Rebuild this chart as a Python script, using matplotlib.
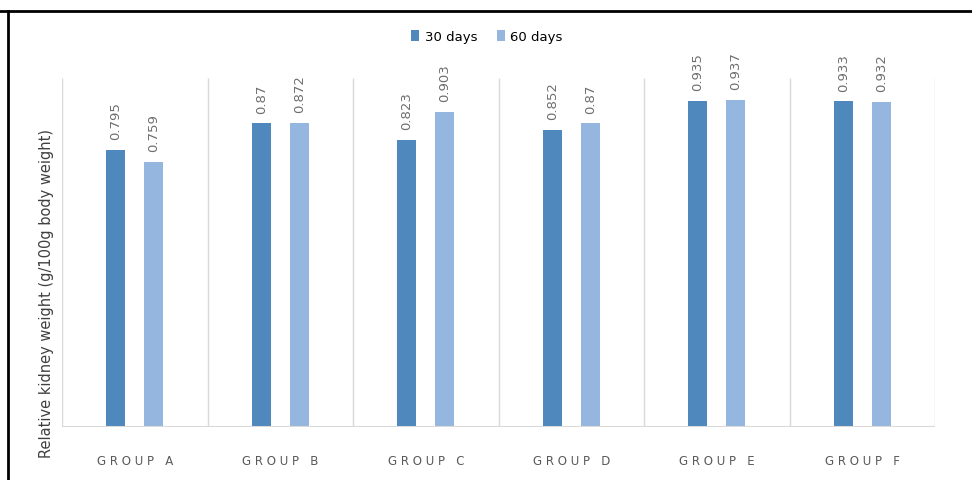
import numpy as np
import matplotlib
matplotlib.use("Agg")
from matplotlib import pyplot as plt
from matplotlib.lines import Line2D

groups = ["GROUP A", "GROUP B", "GROUP C", "GROUP D", "GROUP E", "GROUP F"]
days30 = [0.795, 0.87, 0.823, 0.852, 0.935, 0.933]
days60 = [0.759, 0.872, 0.903, 0.87, 0.937, 0.932]
series_names = ["30 days", "60 days"]

c30 = "#4f88bd"
c60 = "#95b6de"
grey = "#595959"

fig = plt.figure(figsize=(9.72, 4.8), dpi=100)
ax = fig.add_axes([62/972, 1-427/480, (935-62)/972, (427-78)/480])

x = np.arange(len(groups))
w = 0.13
b1 = ax.bar(x - w, days30, w, color=c30, label=series_names[0])
b2 = ax.bar(x + w, days60, w, color=c60, label=series_names[1])

# etiquettes de valeurs, verticales au-dessus des barres
for bars, vals in ((b1, days30), (b2, days60)):
    for r, v in zip(bars, vals):
        ax.annotate(f"{v:g}", (r.get_x() + r.get_width()/2, v), xytext=(0, 7),
                    textcoords="offset points", rotation=90, ha="center", va="bottom",
                    fontsize=9.5, color="#6e6e6e")

ax.set_xlim(-0.5, len(groups) - 0.5)
ax.set_ylim(0, 1.0)
ax.vlines(np.arange(len(groups) + 1) - 0.5, 0, 1, color="#d9d9d9", lw=1)
ax.axhline(0, color="#d9d9d9", lw=1.5)
for s in ax.spines.values():
    s.set_visible(False)
ax.set_yticks([])
ax.set_xticks(x)
ax.set_xticklabels([" ".join(g) for g in groups], fontsize=8.5, color=grey)
ax.tick_params(axis="x", length=0, pad=20)

fig.text(47/972, 1-293/480, "Relative kidney weight (g/100g body weight)",
         rotation=90, ha="center", va="center", fontsize=10.5, color="#404040")

fig.legend(loc="center", bbox_to_anchor=(487/972, 1-37/480), ncol=2, frameon=False,
           fontsize=9.5, handlelength=0.6, handleheight=0.9, handletextpad=0.4,
           columnspacing=1.5)

# cadre noir (haut et gauche)
fig.add_artist(Line2D([0, 1], [1-10.5/480, 1-10.5/480], color="black", lw=2))
fig.add_artist(Line2D([7.5/972, 7.5/972], [0, 1-10.5/480], color="black", lw=2))

fig.savefig("out.png", dpi=100)
